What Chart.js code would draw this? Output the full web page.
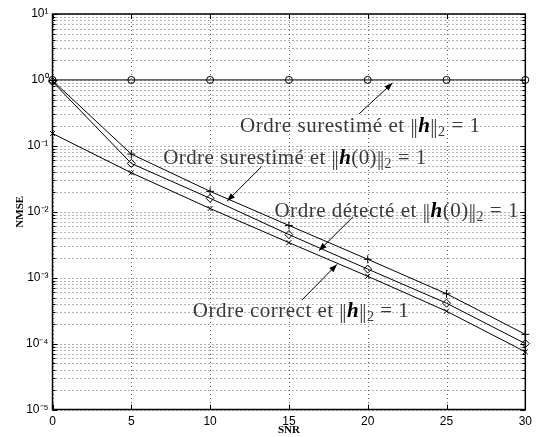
<!DOCTYPE html>
<html>
<head>
<meta charset="utf-8">
<script src="https://cdn.jsdelivr.net/npm/chart.js@4.4.0/dist/chart.umd.min.js"></script>
<style>
html, body { margin: 0; padding: 0; background: #fff; }
#wrap { width: 537px; height: 437px; }
</style>
</head>
<body>
<div id="wrap"><canvas id="chart" width="537" height="437"></canvas></div>
<script>
// values
var snr = [0, 5, 10, 15, 20, 25, 30];
var nmseOverUnit = [1, 1, 1, 1, 1, 1, 1];                                   // circles
var nmseOverInit = [0.98, 0.075, 0.0204, 0.0062, 0.0019, 0.00057, 0.000138]; // plus
var nmseDetected = [0.94, 0.054, 0.016, 0.0045, 0.00135, 0.00041, 0.0001];  // diamonds
var nmseCorrect = [0.154, 0.039, 0.0112, 0.0034, 0.00105, 0.00031, 0.000075]; // crosses
var yExponents = [-5, -4, -3, -2, -1, 0, 1];

function pts(ys) {
    return snr.map(function (x, i) { return { x: x, y: ys[i] }; });
}

function isDecade(v) {
    var l = Math.log10(v);
    return Math.abs(l - Math.round(l)) < 1e-9;
}

var supMap = { '-': '\u207B', '0': '\u2070', '1': '\u00B9', '2': '\u00B2', '3': '\u00B3',
    '4': '\u2074', '5': '\u2075', '6': '\u2076', '7': '\u2077', '8': '\u2078', '9': '\u2079' };
function sup(n) {
    return String(n).split('').map(function (c) { return supMap[c]; }).join('');
}

// annotation texts: [text, kind]  kind: n = normal, h = bold italic, s = subscript
var notes = [
    { parts: [['Ordre surestim\u00E9 et \u2016', 'n'], ['h', 'h'], ['\u2016', 'n'], ['2', 's'], [' = 1', 'n']],
      x: 11.9, y: 0.207, w: 240, from: [19.45, 0.305], to: [21.57, 0.90] },
    { parts: [['Ordre surestim\u00E9 et \u2016', 'n'], ['h', 'h'], ['(0)\u2016', 'n'], ['2', 's'], [' = 1', 'n']],
      x: 7.02, y: 0.0676, w: 263, from: [13.26, 0.0482], to: [11.08, 0.01453] },
    { parts: [['Ordre d\u00E9tect\u00E9 et \u2016', 'n'], ['h', 'h'], ['(0)\u2016', 'n'], ['2', 's'], [' = 1', 'n']],
      x: 14.08, y: 0.0106, w: 244, from: [19.07, 0.0084], to: [16.9, 0.00256] },
    { parts: [['Ordre correct et \u2016', 'n'], ['h', 'h'], ['\u2016', 'n'], ['2', 's'], [' = 1', 'n']],
      x: 8.9, y: 0.000322, w: 216, from: [15.82, 0.000457], to: [18.05, 0.00159] }
];

var fonts = {
    n: '21px "Liberation Serif"',
    h: 'bold italic 21px "Liberation Serif"',
    s: '14px "Liberation Serif"'
};

function charWidth(ctx, c) {
    ctx.font = fonts[c[1]];
    if (c[0] === '\u2016') return ctx.measureText('|').width + 3;
    return ctx.measureText(c[0]).width;
}

function drawNote(ctx, xs, ys, note) {
    var chars = [];
    note.parts.forEach(function (p) {
        p[0].split('').forEach(function (c) { chars.push([c, p[1]]); });
    });
    var natural = 0;
    chars.forEach(function (c) { natural += charWidth(ctx, c); });
    var extra = (note.w - natural) / (chars.length - 1);
    var px = xs.getPixelForValue(note.x);
    var py = ys.getPixelForValue(note.y) + 7;
    ctx.textBaseline = 'alphabetic';
    ctx.textAlign = 'left';
    chars.forEach(function (c) {
        var w = charWidth(ctx, c);
        ctx.fillStyle = c[1] === 'h' ? '#000' : '#3a3a3a';
        if (c[0] === '\u2016') {
            ctx.fillText('|', px, py + 1);
            ctx.fillText('|', px + 3, py + 1);
        } else {
            ctx.fillText(c[0], px, py + (c[1] === 's' ? 4 : 0));
        }
        px += w + extra;
    });

    var x0 = xs.getPixelForValue(note.from[0]), y0 = ys.getPixelForValue(note.from[1]);
    var x1 = xs.getPixelForValue(note.to[0]), y1 = ys.getPixelForValue(note.to[1]);
    var ang = Math.atan2(y1 - y0, x1 - x0);
    ctx.strokeStyle = '#000';
    ctx.fillStyle = '#000';
    ctx.lineWidth = 1;
    ctx.beginPath();
    ctx.moveTo(x0, y0);
    ctx.lineTo(x1, y1);
    ctx.stroke();
    ctx.beginPath();
    ctx.moveTo(x1, y1);
    ctx.lineTo(x1 - 8 * Math.cos(ang) + 3 * Math.sin(ang), y1 - 8 * Math.sin(ang) - 3 * Math.cos(ang));
    ctx.lineTo(x1 - 8 * Math.cos(ang) - 3 * Math.sin(ang), y1 - 8 * Math.sin(ang) + 3 * Math.cos(ang));
    ctx.closePath();
    ctx.fill();
}

var gridPlugin = {
    id: 'dotgrid',
    beforeDatasetsDraw: function (chart) {
        var ctx = chart.ctx, a = chart.chartArea;
        var xs = chart.scales.x, ys = chart.scales.y;
        ctx.save();
        ctx.strokeStyle = 'rgba(0,0,0,0.6)';
        ctx.lineWidth = 1;
        ctx.setLineDash([1, 3]);
        ctx.beginPath();
        ys.ticks.forEach(function (t) {
            var y = Math.round(ys.getPixelForValue(t.value)) + 0.5;
            ctx.moveTo(a.left, y); ctx.lineTo(a.right, y);
        });
        xs.ticks.forEach(function (t) {
            var x = Math.round(xs.getPixelForValue(t.value)) + 0.5;
            ctx.moveTo(x, a.top); ctx.lineTo(x, a.bottom);
        });
        ctx.stroke();
        ctx.restore();
    },
    afterDatasetsDraw: function (chart) {
        var ctx = chart.ctx, a = chart.chartArea;
        var xs = chart.scales.x, ys = chart.scales.y;
        ctx.save();
        ctx.strokeStyle = '#000';
        ctx.lineWidth = 1;
        ctx.beginPath();
        ys.ticks.forEach(function (t) {
            var y = Math.round(ys.getPixelForValue(t.value)) + 0.5;
            var len = isDecade(t.value) ? 5 : 3;
            ctx.moveTo(a.left, y); ctx.lineTo(a.left + len, y);
            ctx.moveTo(a.right, y); ctx.lineTo(a.right - len, y);
        });
        xs.ticks.forEach(function (t) {
            var x = Math.round(xs.getPixelForValue(t.value)) + 0.5;
            ctx.moveTo(x, a.bottom); ctx.lineTo(x, a.bottom - 5);
            ctx.moveTo(x, a.top); ctx.lineTo(x, a.top + 5);
        });
        ctx.stroke();
        ctx.lineWidth = 1.5;
        ctx.strokeRect(a.left, a.top, a.right - a.left, a.bottom - a.top);
        notes.forEach(function (n) { drawNote(ctx, xs, ys, n); });
        ctx.restore();
    }
};

var mk = function (label, ys, style, r) {
    return {
        label: label,
        data: pts(ys),
        borderColor: '#000',
        borderWidth: 1,
        pointStyle: style,
        pointRadius: r,
        pointBorderColor: '#000',
        pointBorderWidth: 1,
        pointBackgroundColor: 'rgba(0,0,0,0)',
        fill: false,
        clip: false,
        tension: 0
    };
};

var chart = new Chart(document.getElementById('chart').getContext('2d'), {
    type: 'line',
    data: {
        datasets: [
            mk('Ordre surestim\u00E9 et ||h||2 = 1', nmseOverUnit, 'circle', 3.5),
            mk('Ordre surestim\u00E9 et ||h(0)||2 = 1', nmseOverInit, 'cross', 4),
            mk('Ordre d\u00E9tect\u00E9 et ||h(0)||2 = 1', nmseDetected, 'rectRot', 4),
            mk('Ordre correct et ||h||2 = 1', nmseCorrect, 'crossRot', 3.5)
        ]
    },
    options: {
        responsive: false,
        animation: false,
        devicePixelRatio: 1,
        layout: { padding: { top: 14, right: 4, left: 0, bottom: 0 } },
        plugins: { legend: { display: false }, tooltip: { enabled: false } },
        scales: {
            x: {
                type: 'linear',
                min: 0,
                max: 30,
                afterFit: function (s) { s.height = 27.5; },
                ticks: { stepSize: 5, padding: 5, color: '#000', font: { family: 'Liberation Sans', size: 12 } },
                grid: { display: false, drawTicks: false },
                border: { display: false },
                title: { display: true, text: 'SNR', color: '#000', padding: { top: 0, bottom: 0 },
                    font: { family: 'Liberation Serif', size: 11, weight: 'bold' } }
            },
            y: {
                type: 'logarithmic',
                min: 1e-5,
                max: 10,
                afterFit: function (s) { s.width = 52.5; },
                afterBuildTicks: function (s) {
                    var t = [];
                    yExponents.forEach(function (e) {
                        for (var m = 1; m <= 9; m++) {
                            if (e === 1 && m > 1) break;
                            t.push({ value: m * Math.pow(10, e) });
                        }
                    });
                    s.ticks = t;
                },
                ticks: {
                    autoSkip: false,
                    padding: 4,
                    color: '#000',
                    font: { family: 'Liberation Sans', size: 12 },
                    callback: function (v) {
                        return isDecade(v) ? '10' + sup(Math.round(Math.log10(v))) : '';
                    }
                },
                grid: { display: false, drawTicks: false },
                border: { display: false },
                title: { display: true, text: 'NMSE', color: '#000', padding: { top: 14, bottom: 0 },
                    font: { family: 'Liberation Serif', size: 11, weight: 'bold' } }
            }
        }
    },
    plugins: [gridPlugin]
});
</script>
</body>
</html>
